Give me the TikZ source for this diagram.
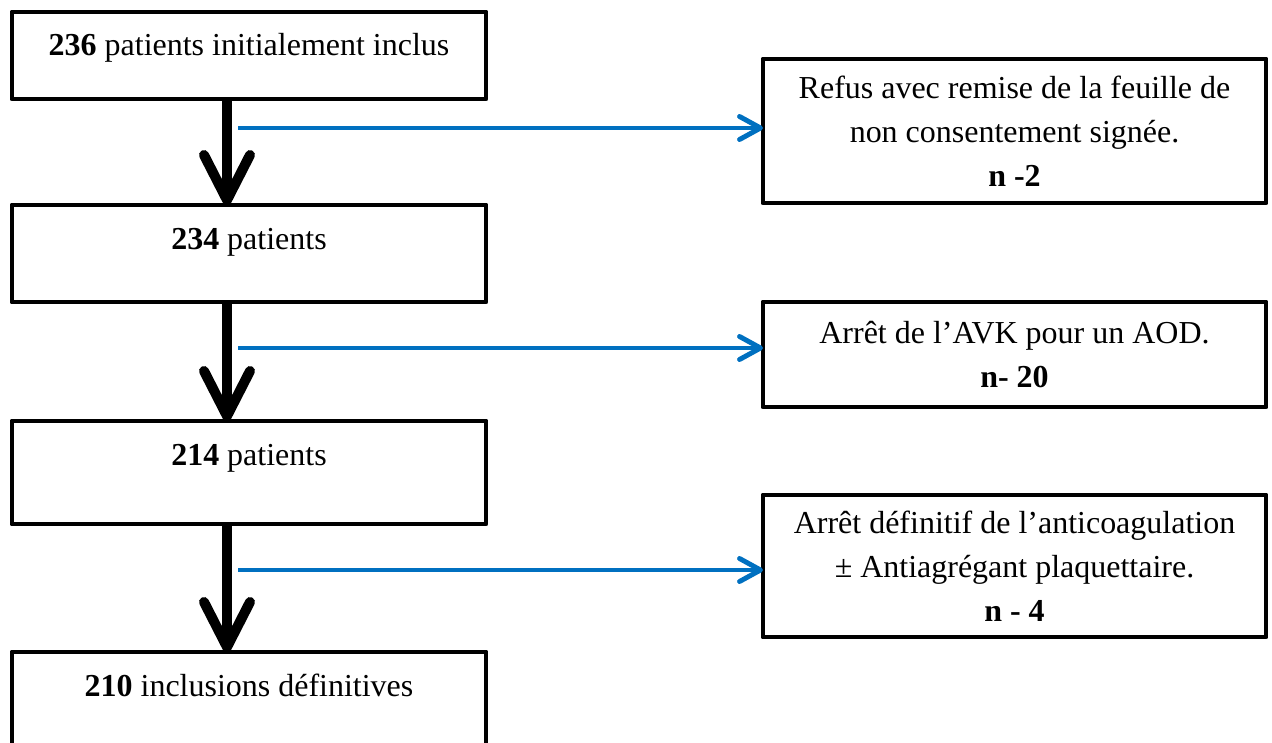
\documentclass[tikz,border=0pt]{standalone}
\usepackage{fontspec}
\setmainfont{Liberation Serif}
\usepackage{tikz}
\usetikzlibrary{
  arrows.meta,
  positioning
}
\definecolor{flowblue}{RGB}{0,112,192}

\begin{document}
\begin{tikzpicture}[
      stage/.style={
         rectangle,
         draw=black,
         line width=2.8pt,
         line join=round,
         minimum width=9.48cm,
         inner sep=0pt,
         outer sep=0pt,
         text height=0.88cm,
         text depth=#1,
         font=\fontsize{18.2pt}{25pt}\selectfont
      },
      exclusion/.style={
         rectangle,
         draw=black,
         line width=2.8pt,
         line join=round,
         minimum width=10.06cm,
         minimum height=#1,
         outer sep=0pt,
         align=center,
         font=\fontsize{18.2pt}{25pt}\selectfont
      },
      flow/.style={-{Straight Barb[round,length=0.9cm,width=0.92cm]},line width=5.7pt},
      drop/.style={-{Straight Barb[round,length=0.42cm,width=0.46cm]},line width=2.8pt,draw=flowblue},
      %node distance=2.12cm
    ]
  \clip (0,0) rectangle (25.44,-14.84);
  \node (b1) [stage=0.86cm] at (4.98,-1.11) {\textbf{236} patients initialement inclus};
  \node (b2) [stage=1.06cm, below=2.12cm of b1] {\textbf{234} patients};
  \node (b3) [stage=1.18cm, below=2.38cm of b2] {\textbf{214} patients};
  \node (b4) [stage=1.42cm, below=2.56cm of b3] {\textbf{210} inclusions définitives};

  \node (r1) [exclusion=2.88cm] at (20.29,-2.62) {Refus avec remise de la feuille de\\non consentement signée.\\\textbf{n -2}};
  \node (r2) [exclusion=2.1cm] at (20.29,-7.09) {Arrêt de l’AVK pour un AOD.\\\textbf{n- 20}};
  \node (r3) [exclusion=2.84cm] at (20.29,-11.32) {Arrêt définitif de l’anticoagulation\\± Antiagrégant plaquettaire.\\\textbf{n - 4}};

  \coordinate (sx) at (4.54,0);
  \coordinate (e1) at (4.76,-2.56);
  \coordinate (e2) at (4.76,-6.96);
  \coordinate (e3) at (4.76,-11.4);

  \draw[flow] (b1.south -| sx) -- (b2.north -| sx);
  \draw[flow] (b2.south -| sx) -- (b3.north -| sx);
  \draw[flow] (b3.south -| sx) -- (b4.north -| sx);

  \draw[drop] (e1) -- (e1 -| r1.west);
  \draw[drop] (e2) -- (e2 -| r2.west);
  \draw[drop] (e3) -- (e3 -| r3.west);
\end{tikzpicture}
\end{document}
